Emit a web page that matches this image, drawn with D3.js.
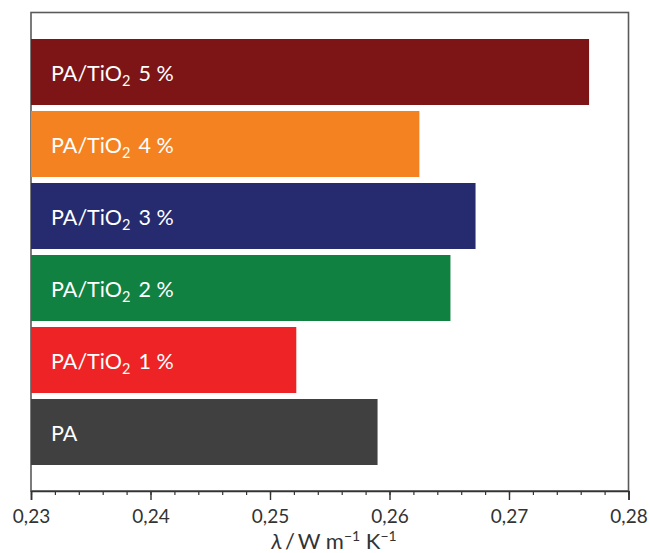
<!DOCTYPE html>
<html>
<head>
<meta charset="utf-8">
<script src="https://cdn.jsdelivr.net/npm/d3@7"></script>
<style>
  html, body { margin: 0; padding: 0; background: #fff; }
  svg { display: block; }
  text { font-family: Lato, "Open Sans", sans-serif; }
</style>
</head>
<body>
<svg id="chart" width="650" height="553"></svg>
<script>
// ---- data ----
const categories = ["PA/TiO2 5 %", "PA/TiO2 4 %", "PA/TiO2 3 %", "PA/TiO2 2 %", "PA/TiO2 1 %", "PA"];
const values = [0.2767, 0.2625, 0.2672, 0.2651, 0.2522, 0.2590];
const colors = ["#7d1416", "#f58220", "#262a6f", "#108141", "#ee2325", "#404040"];
const majorTicks = [0.23, 0.24, 0.25, 0.26, 0.27, 0.28];
const minorTicks = d3.range(0, 26).map(i => 0.23 + i * 0.002);

const svg = d3.select("#chart");
const mLeft = 31, mRight = 628.5, mTop = 12.5, mBottom = 491;

const x = d3.scaleLinear().domain([0.23, 0.28]).range([mLeft, mRight]);
const y = d3.scaleBand().domain(categories).range([39, 465]).paddingInner(6 / 72).paddingOuter(0);

// frame
svg.append("rect")
  .attr("x", mLeft).attr("y", mTop)
  .attr("width", mRight - mLeft).attr("height", mBottom - mTop)
  .attr("fill", "none").attr("stroke", "#5a5a5a").attr("stroke-width", 1.6);

// bars
svg.append("g").selectAll("rect")
  .data(categories)
  .join("rect")
  .attr("x", x(0.23))
  .attr("y", d => y(d))
  .attr("width", (d, i) => x(values[i]) - x(0.23))
  .attr("height", y.bandwidth())
  .attr("fill", (d, i) => colors[i]);

// bar labels
const labels = svg.append("g").selectAll("text")
  .data(categories)
  .join("text")
  .attr("x", 51)
  .attr("y", d => y(d) + y.bandwidth() / 2 + 9)
  .attr("fill", "#ffffff")
  .attr("font-size", 21.5);

labels.each(function(d) {
  const t = d3.select(this);
  const m = d.match(/^(PA\/TiO)2(.*)$/);
  if (m) {
    t.append("tspan").text(m[1]);
    t.append("tspan").text("2").attr("font-size", 14.5).attr("dy", 5);
    t.append("tspan").text(m[2].replace(" ", "\u2009 ")).attr("dy", -5);
  } else {
    t.text(d);
  }
});

// minor ticks
const minorAxis = d3.axisBottom(x).tickValues(minorTicks).tickSize(4).tickFormat("");
svg.append("g").attr("transform", `translate(0,${mBottom})`).call(minorAxis)
  .call(g => g.select(".domain").remove())
  .call(g => g.selectAll("line").attr("stroke", "#333").attr("stroke-width", 1.2));

// major axis
const axis = d3.axisBottom(x).tickValues(majorTicks).tickSize(9).tickPadding(10)
  .tickFormat(d => d3.format(".2f")(d).replace(".", ","));
const ag = svg.append("g").attr("transform", `translate(0,${mBottom})`).call(axis);
ag.select(".domain").attr("stroke", "#333").attr("stroke-width", 1.6);
ag.selectAll("line").attr("stroke", "#333").attr("stroke-width", 1.4);
ag.selectAll("text").attr("font-size", 19).attr("fill", "#333")
  .attr("font-family", "Lato, 'Open Sans', sans-serif");

// axis title
const title = svg.append("text")
  .attr("x", 334).attr("y", 549)
  .attr("text-anchor", "middle")
  .attr("font-size", 22).attr("fill", "#333");
title.append("tspan").text("λ").attr("font-style", "italic");
title.append("tspan").text("\u2009/\u2009W m");
title.append("tspan").text("−1").attr("font-size", 14).attr("dy", -8);
title.append("tspan").text(" K").attr("dy", 8);
title.append("tspan").text("−1").attr("font-size", 14).attr("dy", -8);
</script>
</body>
</html>
